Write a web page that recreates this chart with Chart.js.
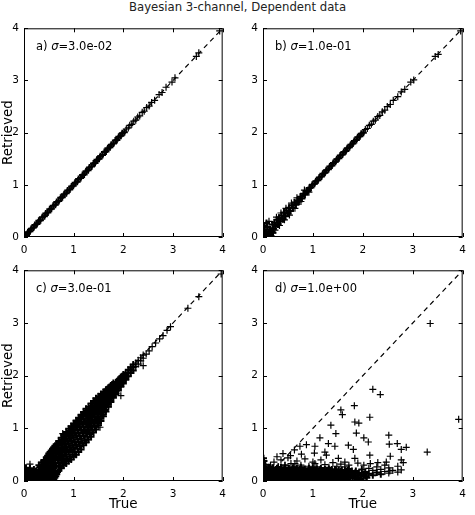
<!DOCTYPE html>
<html>
<head>
<meta charset="utf-8">
<script src="https://cdn.jsdelivr.net/npm/chart.js@4.4.0/dist/chart.umd.min.js"></script>
<style>
  body { margin: 0; width: 475px; height: 515px; background: #fff; position: relative; overflow: hidden; }
  #title { position: absolute; left: 0; top: 0; width: 475px; text-align: center; font: 11.7px "DejaVu Sans", sans-serif; line-height: 14px; color: #222; }
  canvas { position: absolute; }
</style>
</head>
<body>
<div id="title">Bayesian 3-channel, Dependent data</div>
<canvas id="panelA" width="233" height="242" style="left:0px;top:17px"></canvas>
<canvas id="panelB" width="240" height="242" style="left:233px;top:17px"></canvas>
<canvas id="panelC" width="233" height="256" style="left:0px;top:259px"></canvas>
<canvas id="panelD" width="240" height="256" style="left:233px;top:259px"></canvas>
<script>
// axes and reference line
const tickValues = [0, 1, 2, 3, 4];
const diagLine = [0, 4];
const panelLabels = ["a)", "b)", "c)", "d)"];
const sigmaLabels = ["=3.0e-02", "=1.0e-01", "=3.0e-01", "=1.0e+00"];

// [true, retrieved] pairs: dense core and sparse points
const panelACore = [
  [0.02,0.03],[0.05,0.04],[0.08,0.09],[0.12,0.11],[0.15,0.16],[0.19,0.18],[0.22,0.23],[0.26,0.25],[0.30,0.31],[0.33,0.32],
  [0.37,0.38],[0.41,0.40],[0.44,0.45],[0.48,0.47],[0.52,0.53],[0.55,0.54],[0.59,0.60],[0.63,0.62],[0.66,0.67],[0.70,0.69],
  [0.74,0.75],[0.77,0.76],[0.81,0.82],[0.85,0.84],[0.88,0.89],[0.92,0.91],[0.96,0.97],[0.99,0.98],[1.03,1.04],[1.07,1.06],
  [1.10,1.11],[1.14,1.13],[1.18,1.19],[1.21,1.20],[1.25,1.26],[1.29,1.28],[1.32,1.33],[1.36,1.35],[1.40,1.41],[1.43,1.42],
  [1.47,1.48],[1.51,1.50],[1.54,1.55],[1.58,1.57],[1.62,1.63],[1.65,1.64],[1.69,1.70],[1.73,1.72],[1.76,1.77],[1.80,1.79],
  [1.84,1.85],[1.87,1.86],[1.91,1.92],[1.95,1.94],[1.98,1.99],[2.02,2.01]
];
const panelASparse = [
  [2.06,2.07],[2.10,2.09],[2.13,2.14],[2.17,2.16],[2.21,2.22],[2.25,2.24],[2.29,2.30],[2.33,2.32],[2.38,2.39],[2.42,2.41],
  [2.47,2.48],[2.52,2.51],[2.57,2.58],[2.63,2.62],[2.72,2.73],[2.78,2.77],[2.86,2.87],[2.98,2.97],[3.04,3.05],[3.47,3.46],
  [3.52,3.53],[3.94,3.95]
];

const panelBCore = [
  [0.01,0.05],[0.03,0.14],[0.04,0.01],[0.06,0.10],[0.08,0.03],[0.09,0.19],[0.11,0.08],[0.13,0.02],[0.14,0.15],[0.17,0.10],
  [0.19,0.24],[0.21,0.16],[0.23,0.28],[0.25,0.20],[0.28,0.33],[0.30,0.24],[0.32,0.37],[0.35,0.30],[0.37,0.41],[0.40,0.34],
  [0.42,0.47],[0.45,0.40],[0.47,0.51],[0.50,0.45],[0.52,0.56],[0.55,0.50],[0.58,0.61],[0.60,0.56],[0.63,0.66],[0.66,0.62],
  [0.69,0.70],[0.72,0.68],[0.75,0.77],[0.78,0.74],[0.81,0.83],[0.84,0.81],[0.87,0.88],[0.90,0.88],[0.93,0.94],[0.96,0.95],
  [0.99,1.00],[1.03,1.02],[1.06,1.07],[1.10,1.09],[1.13,1.14],[1.17,1.16],[1.20,1.21],[1.24,1.23],[1.27,1.28],[1.31,1.30],
  [1.34,1.35],[1.38,1.37],[1.41,1.42],[1.45,1.44],[1.48,1.49],[1.52,1.51],[1.55,1.56],[1.59,1.58],[1.62,1.63],[1.66,1.65],
  [1.69,1.70],[1.73,1.72],[1.76,1.77],[1.80,1.79],[1.83,1.84],[1.87,1.86],[1.90,1.91],[1.94,1.93],[1.97,1.98],[2.01,2.00],
  [0.00,0.10],[0.05,0.00],[0.16,0.02],[0.20,0.08],[0.02,0.22],[0.07,0.27]
];
const panelBSparse = [
  [2.05,2.06],[2.09,2.08],[2.13,2.14],[2.17,2.16],[2.21,2.22],[2.25,2.24],[2.30,2.31],[2.34,2.33],[2.39,2.40],[2.44,2.43],
  [2.49,2.50],[2.55,2.54],[2.61,2.62],[2.70,2.69],[2.77,2.78],[2.84,2.83],[2.96,2.97],[3.02,3.01],[3.45,3.46],[3.51,3.50],[3.96,3.95],
  [0.12,0.30],[0.24,0.13],[0.27,0.38],[0.33,0.22],[0.36,0.46],[0.43,0.33],
  [0.46,0.55],[0.53,0.42],[0.57,0.65],[0.64,0.55],[0.68,0.75],[0.76,0.68],[0.83,0.90],[0.92,0.86]
];

const panelCCore = [
  [0.01,0.02],[0.03,0.08],[0.05,0.01],[0.07,0.12],[0.09,0.04],[0.11,0.15],[0.13,0.02],[0.15,0.09],[0.17,0.05],[0.19,0.13],
  [0.21,0.01],[0.23,0.07],[0.25,0.11],[0.27,0.03],[0.29,0.16],[0.31,0.06],[0.33,0.10],[0.35,0.02],[0.37,0.14],[0.39,0.05],
  [0.41,0.09],[0.43,0.18],[0.45,0.03],[0.47,0.12],[0.49,0.07],[0.52,0.15],[0.55,0.04],[0.58,0.10],[0.62,0.06],[0.66,0.13],
  [0.02,0.19],[0.00,0.10],[0.04,0.25],[0.08,0.20],[0.12,0.24],[0.06,0.16],[0.10,0.08],[0.16,0.18],[0.20,0.22],[0.24,0.19],
  [0.02,0.05],[0.04,0.13],[0.06,0.03],[0.08,0.09],[0.10,0.14],[0.12,0.06],[0.14,0.11],[0.16,0.02],[0.18,0.08],[0.20,0.15],
  [0.22,0.04],[0.24,0.09],[0.26,0.14],[0.28,0.06],[0.30,0.02],[0.32,0.13],[0.34,0.06],[0.36,0.11],[0.38,0.01],[0.42,0.05],
  [0.44,0.10],[0.46,0.15],[0.48,0.02],[0.51,0.09],[0.54,0.13],[0.57,0.07],[0.60,0.03],[0.64,0.09],
  [0.30,0.12],[0.30,0.22],[0.30,0.30],
  [0.35,0.09],[0.35,0.18],[0.35,0.27],[0.35,0.35],
  [0.40,0.04],[0.40,0.14],[0.40,0.25],[0.40,0.38],
  [0.45,0.11],[0.45,0.21],[0.45,0.33],[0.45,0.45],
  [0.50,0.06],[0.50,0.17],[0.50,0.29],[0.50,0.41],[0.50,0.52],
  [0.55,0.08],[0.55,0.20],[0.55,0.34],[0.55,0.47],[0.55,0.58],
  [0.60,0.12],[0.60,0.26],[0.60,0.40],[0.60,0.53],[0.60,0.64],
  [0.65,0.14],[0.65,0.29],[0.65,0.45],[0.65,0.60],[0.65,0.70],
  [0.70,0.20],[0.70,0.35],[0.70,0.50],[0.70,0.64],[0.70,0.76],
  [0.75,0.24],[0.75,0.40],[0.75,0.56],[0.75,0.70],[0.75,0.82],
  [0.80,0.30],[0.80,0.46],[0.80,0.61],[0.80,0.75],[0.80,0.88],
  [0.85,0.33],[0.85,0.50],[0.85,0.66],[0.85,0.80],[0.85,0.93],
  [0.90,0.38],[0.90,0.55],[0.90,0.71],[0.90,0.86],[0.90,0.99],
  [0.95,0.41],[0.95,0.59],[0.95,0.76],[0.95,0.91],[0.95,1.04],
  [1.00,0.46],[1.00,0.64],[1.00,0.82],[1.00,0.97],[1.00,1.09],
  [1.05,0.50],[1.05,0.69],[1.05,0.87],[1.05,1.02],[1.05,1.15],
  [1.10,0.55],[1.10,0.74],[1.10,0.92],[1.10,1.07],[1.10,1.20],
  [1.15,0.60],[1.15,0.80],[1.15,0.98],[1.15,1.13],[1.15,1.26],
  [1.20,0.68],[1.20,0.86],[1.20,1.03],[1.20,1.18],[1.20,1.31],
  [1.25,0.73],[1.25,0.92],[1.25,1.08],[1.25,1.24],[1.25,1.37],
  [1.30,0.79],[1.30,0.97],[1.30,1.14],[1.30,1.29],[1.30,1.41],
  [1.35,0.84],[1.35,1.03],[1.35,1.20],[1.35,1.34],[1.35,1.47],
  [1.40,0.92],[1.40,1.10],[1.40,1.26],[1.40,1.39],[1.40,1.52],
  [1.45,0.98],[1.45,1.16],[1.45,1.31],[1.45,1.44],[1.45,1.57],
  [1.50,1.06],[1.50,1.22],[1.50,1.37],[1.50,1.50],[1.50,1.61],
  [1.55,1.14],[1.55,1.29],[1.55,1.43],[1.55,1.55],[1.55,1.65],
  [1.60,1.23],[1.60,1.37],[1.60,1.49],[1.60,1.60],[1.60,1.69],
  [1.65,1.32],[1.65,1.44],[1.65,1.55],[1.65,1.65],[1.65,1.73],
  [1.70,1.42],[1.70,1.52],[1.70,1.62],[1.70,1.70],[1.70,1.77],
  [1.75,1.50],[1.75,1.59],[1.75,1.67],[1.75,1.75],[1.75,1.81],
  [1.80,1.58],[1.80,1.66],[1.80,1.73],[1.80,1.80],[1.80,1.86],
  [1.85,1.65],[1.85,1.72],[1.85,1.79],[1.85,1.85],
  [1.90,1.72],[1.90,1.79],[1.90,1.85],[1.90,1.92],
  [1.95,1.79],[1.95,1.85],[1.95,1.91],[1.95,1.96],
  [2.00,1.85],[2.00,1.91],[2.00,1.97],[2.00,2.02],
  [2.05,1.92],[2.05,1.98],[2.05,2.04],
  [2.10,1.99],[2.10,2.05],[2.10,2.11],
  [2.15,2.05],[2.15,2.10],[2.15,2.16],
  [2.20,2.10],[2.20,2.16],[2.20,2.21],
  [0.325,0.07],[0.325,0.17],[0.325,0.26],
  [0.375,0.05],[0.375,0.14],[0.375,0.23],[0.375,0.31],
  [0.425,0.08],[0.425,0.19],[0.425,0.29],[0.425,0.40],
  [0.475,0.04],[0.475,0.14],[0.475,0.25],[0.475,0.37],[0.475,0.48],
  [0.525,0.11],[0.525,0.23],[0.525,0.35],[0.525,0.46],[0.525,0.55],
  [0.575,0.14],[0.575,0.27],[0.575,0.41],[0.575,0.52],[0.575,0.61],
  [0.625,0.19],[0.625,0.33],[0.625,0.47],[0.625,0.58],[0.625,0.67],
  [0.675,0.17],[0.675,0.42],[0.675,0.57],[0.675,0.70],
  [0.725,0.27],[0.725,0.43],[0.725,0.57],[0.725,0.72],
  [0.775,0.33],[0.775,0.48],[0.775,0.63],[0.775,0.78],
  [0.825,0.38],[0.825,0.54],[0.825,0.70],[0.825,0.84],
  [0.875,0.42],[0.875,0.59],[0.875,0.75],[0.875,0.89],
  [0.925,0.46],[0.925,0.63],[0.925,0.80],[0.925,0.95],
  [0.975,0.50],[0.975,0.68],[0.975,0.86],[0.975,1.01],
  [1.025,0.55],[1.025,0.73],[1.025,0.91],[1.025,1.06],
  [1.075,0.61],[1.075,0.79],[1.075,0.97],[1.075,1.12],
  [1.125,0.66],[1.125,0.85],[1.125,1.03],[1.125,1.18],
  [1.175,0.72],[1.175,0.91],[1.175,1.08],[1.175,1.23],
  [1.225,0.77],[1.225,0.95],[1.225,1.12],[1.225,1.27],
  [1.275,0.84],[1.275,1.01],[1.275,1.18],[1.275,1.33],
  [1.325,0.89],[1.325,1.06],[1.325,1.22],[1.325,1.37],
  [1.375,0.96],[1.375,1.14],[1.375,1.29],[1.375,1.42],
  [1.425,1.03],[1.425,1.21],[1.425,1.36],[1.425,1.49],
  [1.475,1.10],[1.475,1.27],[1.475,1.42],[1.475,1.54],
  [1.525,1.18],[1.525,1.33],[1.525,1.46],[1.525,1.58],
  [1.575,1.26],[1.575,1.40],[1.575,1.52],[1.575,1.62],
  [1.625,1.35],[1.625,1.47],[1.625,1.58],[1.625,1.67],
  [1.675,1.45],[1.675,1.56],[1.675,1.66],[1.675,1.74],
  [1.725,1.53],[1.725,1.63],[1.725,1.71],[1.725,1.78],
  [1.775,1.61],[1.775,1.70],[1.775,1.77],[1.775,1.83],
  [1.825,1.68],[1.825,1.76],[1.825,1.83],
  [1.875,1.75],[1.875,1.82],[1.875,1.88],
  [1.925,1.81],[1.925,1.88],[1.925,1.94],
  [1.975,1.87],[1.975,1.94],[1.975,1.99],
  [2.025,1.95],[2.025,2.01]
];
const panelCSparse = [
  [2.25,2.17],[2.25,2.24],[2.30,2.22],[2.30,2.29],[2.35,2.28],[2.35,2.34],[2.40,2.33],[2.40,2.39],
  [2.46,2.41],[2.52,2.47],[2.58,2.55],[2.65,2.62],[2.73,2.70],[2.80,2.76],[2.88,2.86],[2.95,2.93],
  [3.30,3.28],[3.52,3.50],[3.97,3.93],
  [0.78,0.90],[1.53,1.02],[1.70,1.40],[1.95,1.62],[0.12,0.32],[2.40,2.19]
];

const panelDCore = [
  [0.02,0.03],[0.02,0.12],[0.02,0.20],[0.06,0.06],[0.06,0.15],[0.10,0.02],[0.10,0.10],[0.10,0.18],[0.14,0.05],[0.14,0.13],
  [0.18,0.01],[0.18,0.09],[0.18,0.17],[0.22,0.04],[0.22,0.12],[0.26,0.07],[0.26,0.15],[0.26,0.22],[0.30,0.02],[0.30,0.10],
  [0.34,0.05],[0.34,0.13],[0.34,0.19],[0.38,0.03],[0.38,0.11],[0.42,0.07],[0.42,0.15],[0.42,0.21],[0.46,0.02],[0.46,0.10],
  [0.50,0.05],[0.50,0.13],[0.50,0.18],[0.54,0.03],[0.54,0.09],[0.58,0.06],[0.58,0.14],[0.58,0.20],[0.62,0.02],[0.62,0.11],
  [0.66,0.05],[0.66,0.13],[0.66,0.17],[0.70,0.03],[0.70,0.10],[0.74,0.07],[0.74,0.15],[0.74,0.22],[0.78,0.04],[0.78,0.12],
  [0.82,0.02],[0.82,0.09],[0.82,0.16],[0.86,0.06],[0.86,0.13],[0.90,0.03],[0.90,0.10],[0.90,0.19],[0.94,0.07],[0.94,0.14],
  [0.98,0.04],[0.98,0.11],[0.98,0.18],[1.02,0.02],[1.02,0.09],[1.06,0.06],[1.06,0.14],[1.06,0.20],[1.10,0.03],[1.10,0.11],
  [1.14,0.07],[1.14,0.15],[1.14,0.21],[1.18,0.04],[1.18,0.12],[1.22,0.02],[1.22,0.09],[1.22,0.17],[1.26,0.06],[1.26,0.13],
  [1.30,0.03],[1.30,0.10],[1.30,0.19],[1.34,0.07],[1.34,0.15],[1.38,0.04],[1.38,0.12],[1.38,0.22],[1.42,0.02],[1.42,0.09],
  [1.46,0.06],[1.46,0.14],[1.46,0.20],[1.50,0.03],[1.50,0.11],[1.54,0.07],[1.54,0.16],[1.58,0.04],[1.58,0.12],[1.58,0.21],
  [1.62,0.02],[1.62,0.09],[1.66,0.06],[1.66,0.15],[1.70,0.03],[1.70,0.12],[1.70,0.20],[1.75,0.08],[1.75,0.16],[1.80,0.05],
  [1.80,0.13],[1.86,0.10],[1.86,0.19],[1.92,0.07],[1.92,0.15],[1.98,0.12],[1.98,0.22],[2.05,0.09],[2.05,0.17],[2.12,0.14],
  [2.20,0.11],[2.28,0.16],[2.36,0.13],
  [0.04,0.24],[0.08,0.21],[0.12,0.26],[0.16,0.22],[0.20,0.25],[0.24,0.18],[0.28,0.24],[0.32,0.20],[0.36,0.26],[0.40,0.19],
  [0.44,0.25],[0.48,0.21],[0.52,0.24],[0.56,0.18],[0.60,0.25],[0.64,0.21],[0.68,0.24],[0.72,0.19],[0.76,0.26],[0.80,0.21],
  [0.84,0.23],[0.88,0.18],[0.92,0.24],[0.96,0.21],[1.00,0.25],[1.04,0.19],[1.08,0.23],[1.12,0.18],[1.16,0.24],[1.20,0.20],
  [1.24,0.22],[1.28,0.17],[1.32,0.23],[1.36,0.19],[1.40,0.16],[1.44,0.22],[1.48,0.17],[1.52,0.21],[1.56,0.18],[1.60,0.15],
  [1.64,0.20],[1.68,0.16],[1.72,0.23],[1.78,0.19],[1.84,0.05],[1.90,0.11],[1.96,0.04],[2.02,0.13],[2.08,0.06],
  [0.04,0.08],[0.08,0.01],[0.12,0.07],[0.16,0.11],[0.20,0.06],[0.24,0.10],[0.28,0.01],[0.32,0.14],[0.36,0.07],[0.40,0.12],
  [0.44,0.04],[0.48,0.15],[0.52,0.08],[0.56,0.12],[0.60,0.05],[0.64,0.16],[0.68,0.08],[0.72,0.13],[0.76,0.01],[0.80,0.15],
  [0.84,0.08],[0.88,0.11],[0.92,0.05],[0.96,0.16],[1.00,0.08],[1.04,0.13],[1.08,0.01],[1.12,0.16],[1.16,0.09],[1.20,0.13],
  [1.24,0.05],[1.28,0.10],[1.32,0.14],[1.36,0.01],[1.40,0.08],[1.44,0.12],[1.48,0.05],[1.52,0.14],[1.56,0.09],[1.60,0.06],
  [1.64,0.11],[1.68,0.01],[1.72,0.08],[1.78,0.12],[1.84,0.15],[1.90,0.02],
  [0.00,0.22],[0.01,0.28],[0.00,0.33],[0.02,0.38],[0.01,0.43],[0.03,0.26],[0.04,0.31]
];
const panelDSparse = [
  [2.12,0.24],[2.20,0.20],[2.28,0.27],[2.36,0.22],[2.44,0.18],[2.44,0.30],[2.52,0.15],[2.52,0.25],[2.60,0.20],[2.70,0.17],[2.70,0.28],
  [0.15,0.30],[0.22,0.36],[0.30,0.27],[0.36,0.40],[0.44,0.30],[0.50,0.44],[0.56,0.33],[0.62,0.27],[0.68,0.38],[0.76,0.30],
  [0.84,0.42],[0.92,0.28],[1.00,0.36],[1.08,0.27],[1.16,0.40],[1.24,0.31],[1.32,0.26],[1.40,0.35],[1.48,0.28],[1.56,0.32],
  [1.64,0.27],[1.72,0.30],[1.90,0.34],[2.02,0.30],[2.15,0.33],[2.30,0.35],[0.28,0.46],[0.40,0.52],[0.55,0.48],
  [3.35,2.99],[3.92,1.17],[2.20,1.74],[2.35,1.64],[1.83,1.43],[1.56,1.35],[1.59,1.26],[2.14,1.21],[1.84,1.12],[1.92,1.10],
  [1.36,1.06],[1.46,0.90],[1.87,0.91],[1.14,0.82],[2.02,0.82],[2.11,0.74],[2.52,0.87],[2.53,0.70],[2.69,0.71],[2.87,0.64],
  [2.77,0.60],[3.29,0.55],[1.71,0.68],[1.81,0.60],[1.44,0.66],[1.24,0.55],[1.03,0.53],[1.04,0.66],[0.77,0.51],[0.87,0.69],
  [0.63,0.59],[0.74,0.66],[1.31,0.71],[2.55,0.47],[2.14,0.49],[2.77,0.40],[2.81,0.35],[2.77,0.21],[2.54,0.19],[2.47,0.36],
  [1.84,0.43],[1.64,0.36],[1.51,0.43],[1.27,0.49],[1.04,0.33],[0.64,0.33],[0.44,0.30],[0.31,0.27]
];

const FONT = "'DejaVu Sans', sans-serif";

// frame, inward ticks and the panel label, like the matplotlib original
const framePlugin = {
  id: "frame",
  afterDraw(chart, args, opts) {
    const { ctx, chartArea: a } = chart;
    const xs = chart.scales.x;
    const ys = chart.scales.y;
    ctx.save();
    ctx.strokeStyle = "#000";
    ctx.lineWidth = 1;
    ctx.strokeRect(a.left + 0.5, a.top + 0.5, a.right - a.left - 1, a.bottom - a.top - 1);
    ctx.beginPath();
    tickValues.forEach((v) => {
      const px = Math.round(xs.getPixelForValue(v)) + 0.5;
      ctx.moveTo(px, a.bottom); ctx.lineTo(px, a.bottom - 4);
      ctx.moveTo(px, a.top); ctx.lineTo(px, a.top + 4);
      const py = Math.round(ys.getPixelForValue(v)) + 0.5;
      ctx.moveTo(a.left, py); ctx.lineTo(a.left + 4, py);
      ctx.moveTo(a.right, py); ctx.lineTo(a.right - 4, py);
    });
    ctx.stroke();

    let tx = a.left + 12;
    const ty = a.top + 19;
    ctx.fillStyle = "#000";
    ctx.textBaseline = "middle";
    ctx.font = "11.5px " + FONT;
    ctx.fillText(opts.prefix + " ", tx, ty);
    tx += ctx.measureText(opts.prefix + " ").width;
    ctx.font = "italic 11.5px " + FONT;
    ctx.fillText("σ", tx, ty);
    tx += ctx.measureText("σ").width;
    ctx.font = "11.5px " + FONT;
    ctx.fillText(opts.value, tx, ty);
    ctx.restore();
  },
};

function crossSet(points, width) {
  return {
    data: points.map((p) => ({ x: p[0], y: p[1] })),
    pointStyle: "cross",
    pointRadius: 3.5,
    pointBorderWidth: width,
    pointBorderColor: "#000",
    pointBackgroundColor: "#000",
  };
}

function buildPanel(id, core, sparse, idx, yWidth, xHeight, showX, showY) {
  new Chart(document.getElementById(id), {
    type: "scatter",
    data: {
      datasets: [
        crossSet(core, 2),
        crossSet(sparse, 1.2),
        {
          type: "line",
          data: diagLine.map((v) => ({ x: v, y: v })),
          borderColor: "#000",
          borderWidth: 1.2,
          borderDash: [5, 4],
          pointRadius: 0,
          fill: false,
        },
      ],
    },
    options: {
      responsive: false,
      animation: false,
      layout: { padding: { top: 10, right: 10, left: 0, bottom: 0 } },
      plugins: {
        legend: { display: false },
        tooltip: { enabled: false },
        frame: { prefix: panelLabels[idx], value: sigmaLabels[idx] },
      },
      scales: {
        x: {
          type: "linear",
          min: 0,
          max: 4,
          afterFit: (s) => { s.height = xHeight; },
          ticks: { stepSize: 1, color: "#000", font: { family: FONT, size: 10.5 }, padding: 7, maxRotation: 0 },
          grid: { display: false, drawTicks: false },
          border: { display: false },
          title: { display: showX, text: "True", color: "#000", font: { family: FONT, size: 13.5 }, padding: 2 },
        },
        y: {
          type: "linear",
          min: 0,
          max: 4,
          afterFit: (s) => { s.width = yWidth; },
          ticks: { stepSize: 1, color: "#000", font: { family: FONT, size: 10.5 }, padding: 5 },
          grid: { display: false, drawTicks: false },
          border: { display: false },
          title: { display: showY, text: "Retrieved", color: "#000", font: { family: FONT, size: 13.5 }, padding: 0 },
        },
      },
    },
    plugins: [framePlugin],
  });
}

buildPanel("panelA", panelACore, panelASparse, 0, 24, 22, false, true);
buildPanel("panelB", panelBCore, panelBSparse, 1, 30, 22, false, false);
buildPanel("panelC", panelCCore, panelCSparse, 2, 24, 34, true, true);
buildPanel("panelD", panelDCore, panelDSparse, 3, 30, 34, true, false);
</script>
</body>
</html>
